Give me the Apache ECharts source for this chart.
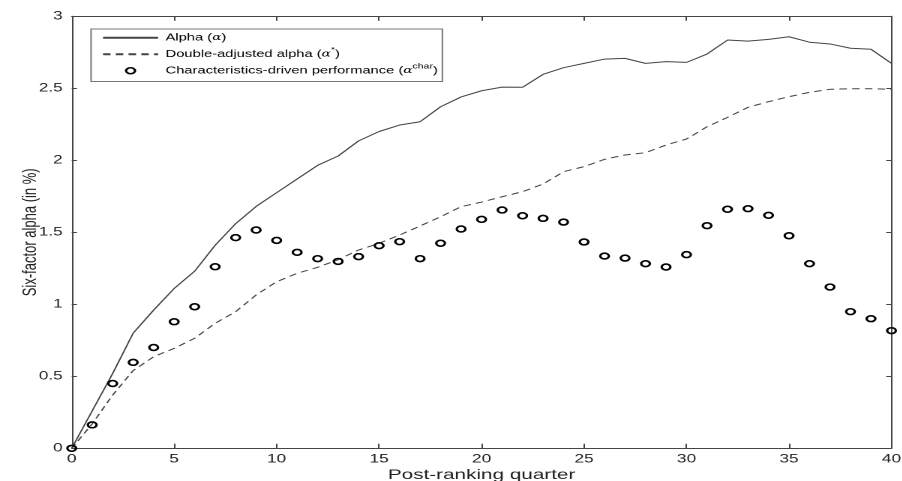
<!DOCTYPE html>
<html>
<head>
<meta charset="utf-8">
<script src="https://cdn.jsdelivr.net/npm/echarts@6/dist/echarts.min.js"></script>
<style>
html,body{margin:0;padding:0;background:#fff;overflow:hidden;width:902px;height:481px;}
/* the reference figure is stretched horizontally by ~1.5x; reproduce that */
#chart{width:601.33px;height:481px;transform:scaleX(1.5);transform-origin:0 0;}
</style>
</head>
<body>
<div id="chart"></div>
<script>
const quarters = [0,1,2,3,4,5,6,7,8,9,10,11,12,13,14,15,16,17,18,19,20,21,22,23,24,25,26,27,28,29,30,31,32,33,34,35,36,37,38,39,40];
const alphaValues = [0, 0.26, 0.52, 0.80, 0.96, 1.11, 1.23, 1.41, 1.56, 1.68, 1.775, 1.87, 1.965, 2.03, 2.135, 2.20, 2.245, 2.268, 2.372, 2.44, 2.483, 2.508, 2.507, 2.597, 2.643, 2.673, 2.703, 2.708, 2.673, 2.685, 2.68, 2.738, 2.835, 2.828, 2.84, 2.858, 2.82, 2.808, 2.778, 2.771, 2.673];
const doubleAdjValues = [0, 0.17, 0.37, 0.54, 0.636, 0.694, 0.764, 0.868, 0.949, 1.065, 1.157, 1.215, 1.257, 1.31, 1.377, 1.424, 1.481, 1.544, 1.608, 1.678, 1.71, 1.747, 1.782, 1.835, 1.921, 1.956, 2.007, 2.037, 2.053, 2.106, 2.148, 2.233, 2.298, 2.368, 2.407, 2.442, 2.472, 2.493, 2.497, 2.497, 2.493];
const charValues = [0, 0.163, 0.45, 0.597, 0.70, 0.879, 0.983, 1.261, 1.463, 1.516, 1.444, 1.361, 1.317, 1.298, 1.331, 1.407, 1.435, 1.317, 1.424, 1.523, 1.59, 1.655, 1.615, 1.597, 1.571, 1.433, 1.335, 1.321, 1.282, 1.259, 1.345, 1.546, 1.66, 1.664, 1.618, 1.476, 1.282, 1.12, 0.949, 0.90, 0.817];
const seriesNames = ['Alpha', 'Double-adjusted alpha', 'Characteristics-driven performance'];
const xAxisTitle = 'Post-ranking quarter';
const yAxisTitle = 'Six-factor alpha (in %)';

const FONT = '"Liberation Sans", Arial, Helvetica, sans-serif';
const AX = '#444';
const TXT = '#222';

function pairs(vals){ return quarters.map((q,i)=>[q, vals[i]]); }

const legendLabels = {
  'Alpha': 'Alpha ({g|α})',
  'Double-adjusted alpha': 'Double-adjusted alpha ({g|α}{s|*})',
  'Characteristics-driven performance': 'Characteristics-driven performance ({g|α}{s|char})'
};

const chart = echarts.init(document.getElementById('chart'), null, {renderer:'canvas', devicePixelRatio:2});
function ticks(len){ return {show:true, inside:true, length:len, lineStyle:{color:AX, width:1}}; }
chart.setOption({
  backgroundColor:'#fff',
  animation:false,
  textStyle:{fontFamily:FONT},
  grid:{left:47.8, right:6.67, top:16.3, bottom:32.7, containLabel:false, outerBoundsMode:'none'},
  legend:{
    orient:'vertical', left:60.7, top:29,
    padding:[1, 3, 3, 7],
    itemWidth:36.7, itemHeight:6, itemGap:1,
    borderColor:'#777', borderWidth:1, backgroundColor:'#fff',
    selectedMode:false,
    formatter: name => legendLabels[name],
    textStyle:{fontFamily:FONT, fontSize:9.8, color:'#000', lineHeight:15.5,
      rich:{
        g:{fontFamily:'"DejaVu Serif", serif', fontStyle:'italic', fontSize:9.2, lineHeight:15.5, color:'#000'},
        s:{fontFamily:FONT, fontSize:7, lineHeight:15.5, verticalAlign:'top', color:'#000', padding:[0,0,6,0]}
      }
    },
    data:[
      {name:seriesNames[0], itemStyle:{opacity:0}},
      {name:seriesNames[1], itemStyle:{opacity:0}},
      {name:seriesNames[2], icon:'circle', itemStyle:{color:'rgba(0,0,0,0)', borderColor:'#000', borderWidth:1.6}}
    ]
  },
  xAxis:[
    {type:'value', min:0, max:40, interval:5, position:'bottom',
     name:xAxisTitle, nameLocation:'middle', nameGap:20, nameMoveOverlap:false,
     nameTextStyle:{fontFamily:FONT, fontSize:13.8, color:TXT},
     axisLine:{show:true, onZero:false, lineStyle:{color:AX, width:1}},
     axisTick:ticks(4.5), splitLine:{show:false},
     axisLabel:{fontFamily:FONT, fontSize:11.5, color:TXT, margin:5}},
    {type:'value', min:0, max:40, interval:5, position:'top',
     axisLine:{show:true, onZero:false, lineStyle:{color:AX, width:1}},
     axisTick:ticks(4.5), splitLine:{show:false}, axisLabel:{show:false}}
  ],
  yAxis:[
    {type:'value', min:0, max:3, interval:0.5, position:'left',
     name:yAxisTitle, nameLocation:'middle', nameGap:21, nameRotate:90, nameMoveOverlap:false,
     nameTextStyle:{fontFamily:FONT, fontSize:13, color:TXT},
     axisLine:{show:true, onZero:false, lineStyle:{color:AX, width:1}},
     axisTick:ticks(3.5), splitLine:{show:false},
     axisLabel:{fontFamily:FONT, fontSize:11.5, color:TXT, margin:6}},
    {type:'value', min:0, max:3, interval:0.5, position:'right',
     axisLine:{show:true, onZero:false, lineStyle:{color:AX, width:1}},
     axisTick:ticks(3.5), splitLine:{show:false}, axisLabel:{show:false}}
  ],
  series:[
    {name:seriesNames[0], type:'line', data:pairs(alphaValues), symbol:'none', showSymbol:false,
     lineStyle:{color:'#444', width:1}, itemStyle:{color:'#444'}, clip:false, z:2},
    {name:seriesNames[1], type:'line', data:pairs(doubleAdjValues), symbol:'none', showSymbol:false,
     lineStyle:{color:'#444', width:1, type:[5,3.5]}, itemStyle:{color:'#444'}, clip:false, z:2},
    {name:seriesNames[2], type:'scatter', data:pairs(charValues), symbol:'circle', symbolSize:5.8,
     itemStyle:{color:'rgba(0,0,0,0)', borderColor:'#000', borderWidth:1.6, opacity:1}, clip:false, z:3}
  ]
});
</script>
</body>
</html>
